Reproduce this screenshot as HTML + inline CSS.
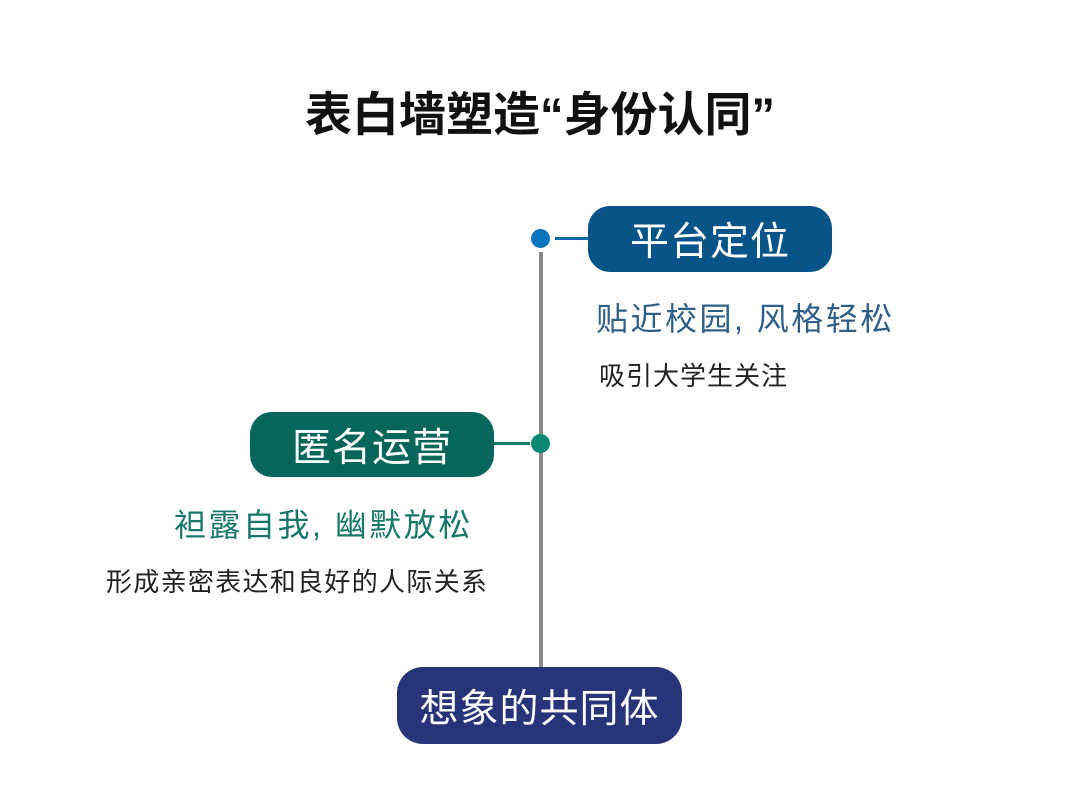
<!DOCTYPE html>
<html><head><meta charset="utf-8"><style>
body{margin:0;width:1080px;height:798px;background:#fff;position:relative;overflow:hidden;font-family:"Liberation Sans","Noto Sans CJK SC",sans-serif;}
.a{position:absolute;white-space:nowrap;}
.box{position:absolute;color:#fff;display:flex;align-items:center;justify-content:center;font-size:39px;letter-spacing:1px;}
</style></head><body>
<div class="a" style="left:0;width:1080px;top:76px;text-align:center;font-size:47px;font-weight:bold;color:#111;">表白墙塑造“身份认同”</div>
<div class="a" style="left:539px;top:252px;width:4px;height:416px;background:#8a8a8a;"></div>
<div class="a" style="left:555px;top:237px;width:34px;height:3px;background:#0b6aa8;"></div>
<div class="a" style="left:531px;top:229px;width:19px;height:19px;border-radius:50%;background:#0a74bc;"></div>
<div class="box" style="left:588px;top:206px;width:244px;height:66px;border-radius:22px;background:#075489;">平台定位</div>
<div class="a" style="left:494px;top:442px;width:36px;height:3px;background:#127c6b;"></div>
<div class="a" style="left:531px;top:434px;width:19px;height:19px;border-radius:50%;background:#0b8a73;"></div>
<div class="box" style="left:250px;top:412px;width:244px;height:65px;border-radius:22px;background:#07665a;">匿名运营</div>
<div class="box" style="left:397px;top:667px;width:285px;height:77px;border-radius:26px;background:#273479;font-size:39px;">想象的共同体</div>
<div class="a" style="left:596px;top:294px;font-size:32px;letter-spacing:2.5px;color:#2f5f86;">贴近校园, 风格轻松</div>
<div class="a" style="left:599px;top:356px;font-size:26px;letter-spacing:1px;color:#222;">吸引大学生关注</div>
<div class="a" style="left:174px;top:500px;font-size:32px;letter-spacing:2.5px;color:#17786a;">袒露自我, 幽默放松</div>
<div class="a" style="left:106px;top:562px;font-size:26px;letter-spacing:1.3px;color:#222;">形成亲密表达和良好的人际关系</div>
</body></html>
